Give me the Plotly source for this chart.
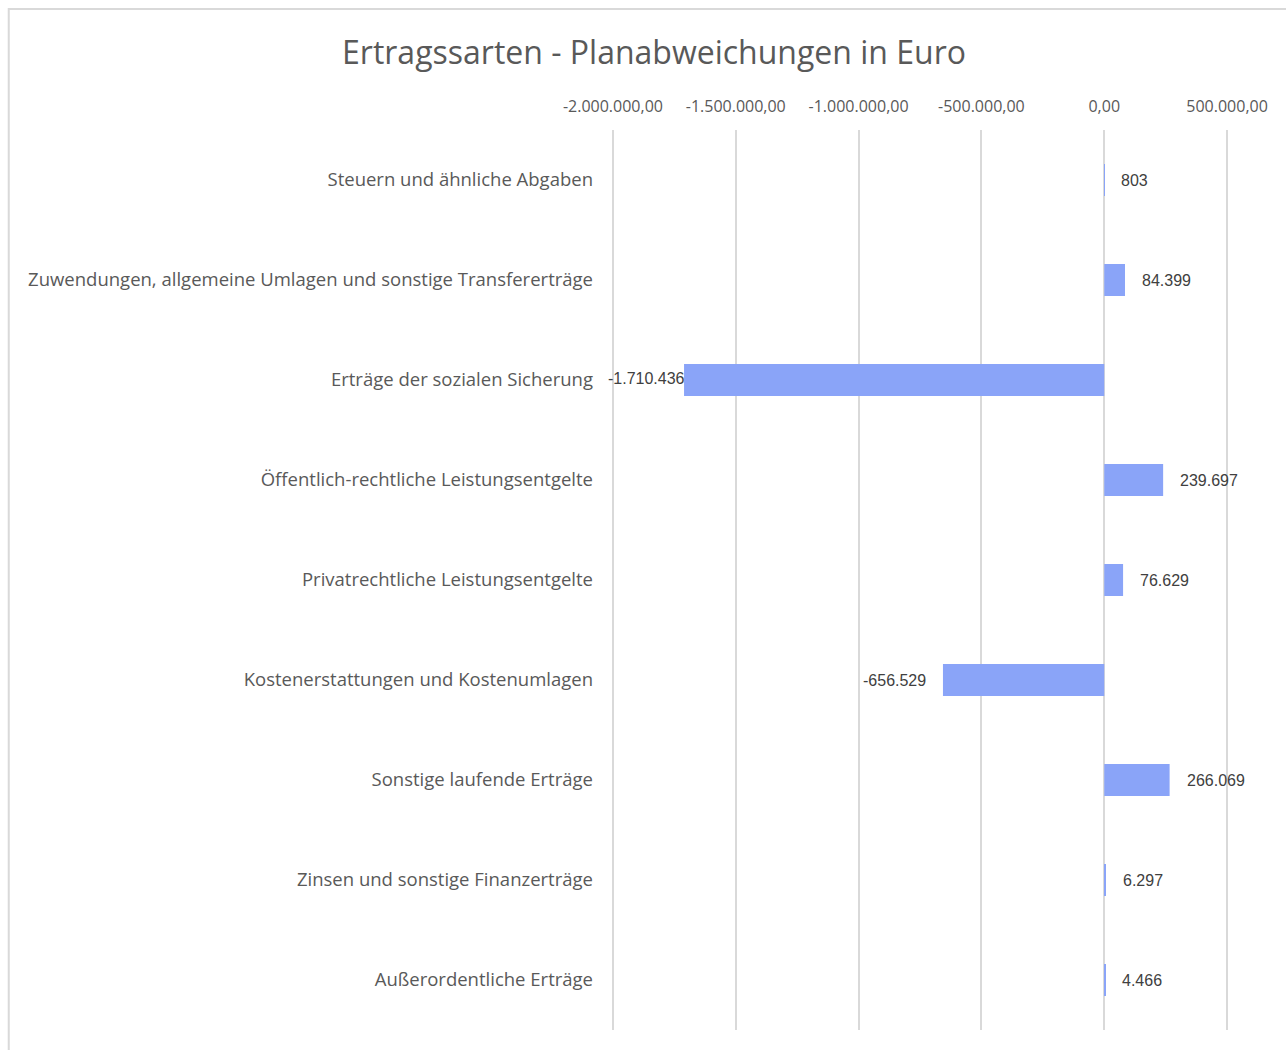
import plotly.graph_objects as go

categories = [
    "Steuern und ähnliche Abgaben",
    "Zuwendungen, allgemeine Umlagen und sonstige Transfererträge",
    "Erträge der sozialen Sicherung",
    "Öffentlich-rechtliche Leistungsentgelte",
    "Privatrechtliche Leistungsentgelte",
    "Kostenerstattungen und Kostenumlagen",
    "Sonstige laufende Erträge",
    "Zinsen und sonstige Finanzerträge",
    "Außerordentliche Erträge",
]
values = [803, 84399, -1710436, 239697, 76629, -656529, 266069, 6297, 4466]
tick_values = [-2000000, -1500000, -1000000, -500000, 0, 500000]
tick_labels = ["-2.000.000,00", "-1.500.000,00", "-1.000.000,00", "-500.000,00", "0,00", "500.000,00"]

W, H = 1286, 1050
PX_PER_UNIT = 614 / 2500000
eps = 20000
pad = eps * PX_PER_UNIT
ML = 613 - pad
MR = 59 - pad
MT, MB = 130, 20

def de(v):
    return f"{v:,}".replace(",", ".")

fig = go.Figure()
fig.add_trace(go.Bar(
    y=categories, x=values, orientation="h",
    marker=dict(color="#8aa4f8", line=dict(width=0)),
    hoverinfo="x+y",
))

lab_font = dict(family="Liberation Sans, Arial", size=16, color="#404040")
annotations = []
for c, v in zip(categories, values):
    if v >= 0:
        annotations.append(dict(x=v, y=c, xref="x", yref="y", text=de(v),
                                xanchor="left", xshift=15, showarrow=False, font=lab_font))
    else:
        shift = -15 if v > -1500000 else 3
        annotations.append(dict(x=v, y=c, xref="x", yref="y", text=de(v),
                                xanchor="right", xshift=shift, yshift=2 if shift > 0 else 0,
                                showarrow=False, font=lab_font))

pw = W - ML - MR
ph = H - MT - MB
fig.update_layout(
    width=W, height=H,
    margin=dict(l=ML, r=MR, t=MT, b=MB),
    paper_bgcolor="white", plot_bgcolor="white",
    title=dict(text="Ertragssarten - Planabweichungen in Euro", x=654 / W, xanchor="center",
               y=1 - 53 / H, yanchor="middle",
               font=dict(family="Open Sans", size=32, color="#595959")),
    bargap=0.68,
    showlegend=False,
    xaxis=dict(range=[-2000000 - eps, 500000 + eps], side="top", tickvals=tick_values,
               ticktext=tick_labels,
               showgrid=True, gridcolor="#d9d9d9", gridwidth=2, zeroline=False,
               showline=False, ticks="", ticklabelstandoff=14,
               tickfont=dict(family="Open Sans", size=16, color="#595959")),
    yaxis=dict(autorange="reversed", showgrid=False, zeroline=False, showline=False, ticks="",
               ticklabelstandoff=14,
               tickfont=dict(family="Open Sans", size=18.5, color="#595959")),
    annotations=annotations,
    shapes=[dict(type="rect", xref="paper", yref="paper",
                 x0=(9 - ML) / pw, x1=(W + 20 - ML) / pw,
                 y0=(H - MB - (H + 20)) / ph, y1=(H - MB - 9) / ph,
                 line=dict(color="#d9d9d9", width=2), fillcolor="rgba(0,0,0,0)", layer="below")],
)

fig.write_html("out.html", config={"displayModeBar": False},
               post_script="document.body.style.margin='0';document.body.style.overflow='hidden';")
